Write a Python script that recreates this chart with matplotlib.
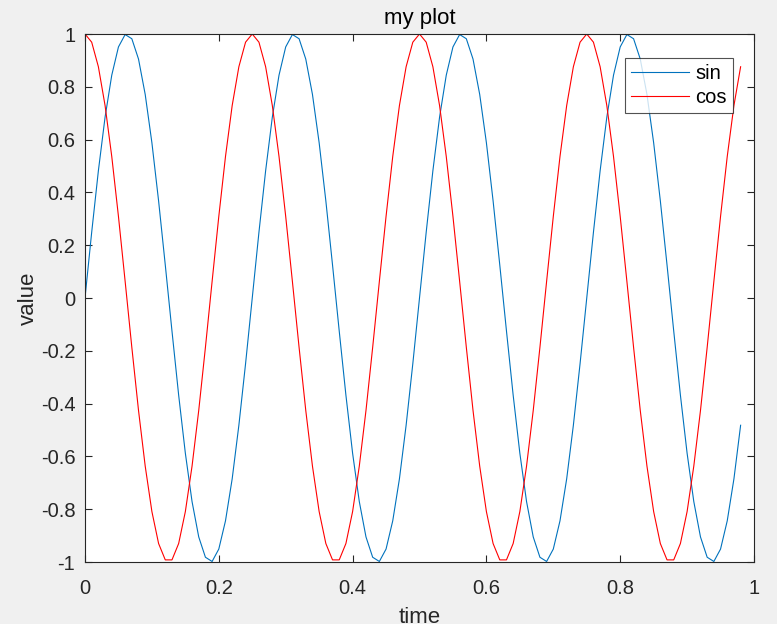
import matplotlib
matplotlib.use("Agg")
import matplotlib.pyplot as plt

# sample times (step 0.01, last point 0.98)
t = [0.00, 0.01, 0.02, 0.03, 0.04, 0.05, 0.06, 0.07, 0.08, 0.09,
     0.10, 0.11, 0.12, 0.13, 0.14, 0.15, 0.16, 0.17, 0.18, 0.19,
     0.20, 0.21, 0.22, 0.23, 0.24, 0.25, 0.26, 0.27, 0.28, 0.29,
     0.30, 0.31, 0.32, 0.33, 0.34, 0.35, 0.36, 0.37, 0.38, 0.39,
     0.40, 0.41, 0.42, 0.43, 0.44, 0.45, 0.46, 0.47, 0.48, 0.49,
     0.50, 0.51, 0.52, 0.53, 0.54, 0.55, 0.56, 0.57, 0.58, 0.59,
     0.60, 0.61, 0.62, 0.63, 0.64, 0.65, 0.66, 0.67, 0.68, 0.69,
     0.70, 0.71, 0.72, 0.73, 0.74, 0.75, 0.76, 0.77, 0.78, 0.79,
     0.80, 0.81, 0.82, 0.83, 0.84, 0.85, 0.86, 0.87, 0.88, 0.89,
     0.90, 0.91, 0.92, 0.93, 0.94, 0.95, 0.96, 0.97, 0.98]

sin_vals = [
    0.000, 0.249, 0.482, 0.685, 0.844, 0.951, 0.998, 0.982, 0.905, 0.771,
    0.588, 0.368, 0.125, -0.125, -0.368, -0.588, -0.771, -0.905, -0.982, -0.998,
    -0.951, -0.844, -0.685, -0.482, -0.249, 0.000, 0.249, 0.482, 0.685, 0.844,
    0.951, 0.998, 0.982, 0.905, 0.771, 0.588, 0.368, 0.125, -0.125, -0.368,
    -0.588, -0.771, -0.905, -0.982, -0.998, -0.951, -0.844, -0.685, -0.482, -0.249,
    0.000, 0.249, 0.482, 0.685, 0.844, 0.951, 0.998, 0.982, 0.905, 0.771,
    0.588, 0.368, 0.125, -0.125, -0.368, -0.588, -0.771, -0.905, -0.982, -0.998,
    -0.951, -0.844, -0.685, -0.482, -0.249, 0.000, 0.249, 0.482, 0.685, 0.844,
    0.951, 0.998, 0.982, 0.905, 0.771, 0.588, 0.368, 0.125, -0.125, -0.368,
    -0.588, -0.771, -0.905, -0.982, -0.998, -0.951, -0.844, -0.685, -0.482,
]

cos_vals = [
    1.000, 0.969, 0.876, 0.729, 0.536, 0.309, 0.063, -0.187, -0.426, -0.637,
    -0.809, -0.930, -0.992, -0.992, -0.930, -0.809, -0.637, -0.426, -0.187, 0.063,
    0.309, 0.536, 0.729, 0.876, 0.969, 1.000, 0.969, 0.876, 0.729, 0.536,
    0.309, 0.063, -0.187, -0.426, -0.637, -0.809, -0.930, -0.992, -0.992, -0.930,
    -0.809, -0.637, -0.426, -0.187, 0.063, 0.309, 0.536, 0.729, 0.876, 0.969,
    1.000, 0.969, 0.876, 0.729, 0.536, 0.309, 0.063, -0.187, -0.426, -0.637,
    -0.809, -0.930, -0.992, -0.992, -0.930, -0.809, -0.637, -0.426, -0.187, 0.063,
    0.309, 0.536, 0.729, 0.876, 0.969, 1.000, 0.969, 0.876, 0.729, 0.536,
    0.309, 0.063, -0.187, -0.426, -0.637, -0.809, -0.930, -0.992, -0.992, -0.930,
    -0.809, -0.637, -0.426, -0.187, 0.063, 0.309, 0.536, 0.729, 0.876,
]

x_ticks = [0, 0.2, 0.4, 0.6, 0.8, 1]
x_labels = ["0", "0.2", "0.4", "0.6", "0.8", "1"]
y_ticks = [-1, -0.8, -0.6, -0.4, -0.2, 0, 0.2, 0.4, 0.6, 0.8, 1]
y_labels = ["-1", "-0.8", "-0.6", "-0.4", "-0.2", "0",
            "0.2", "0.4", "0.6", "0.8", "1"]

plt.rcParams["font.family"] = ["Liberation Sans", "DejaVu Sans"]

W, H = 777, 624
fig = plt.figure(figsize=(W / 100, H / 100), dpi=100, facecolor="#f0f0f0")
ax = fig.add_axes([85 / W, 1 - 562 / H, (754 - 85) / W, (562 - 34) / H])
ax.set_facecolor("white")

ax.plot(t, sin_vals, color="#0072BD", linewidth=0.8, label="sin")
ax.plot(t, cos_vals, color="#FF0000", linewidth=0.8, label="cos")

ax.set_xlim(0, 1)
ax.set_ylim(-1, 1)
ax.set_xticks(x_ticks)
ax.set_xticklabels(x_labels)
ax.set_yticks(y_ticks)
ax.set_yticklabels(y_labels)

dark = "#262626"
for s in ax.spines.values():
    s.set_color(dark)
    s.set_linewidth(0.8)
ax.tick_params(direction="in", top=True, right=True, length=5, width=0.8,
               color=dark, labelcolor=dark, labelsize=14.5)
ax.tick_params(axis="x", pad=12)
ax.tick_params(axis="y", pad=7)

ax.set_title("my plot", fontsize=16, color="black", pad=7)
# the reference window crops the x label at the bottom edge
ax.set_xlabel("time", fontsize=16, color=dark, labelpad=7)
ax.set_ylabel("value", fontsize=16, color=dark, labelpad=1)

leg = ax.legend(loc="upper right", bbox_to_anchor=(733 / W, 1 - 58 / H),
                bbox_transform=fig.transFigure, fontsize=14.5, frameon=True,
                fancybox=False, borderpad=0.3, handlelength=2.9,
                handletextpad=0.3, labelspacing=0.25, borderaxespad=0)
leg.get_frame().set_edgecolor(dark)
leg.get_frame().set_linewidth(0.8)

fig.savefig("out.png", dpi=100, facecolor=fig.get_facecolor())
